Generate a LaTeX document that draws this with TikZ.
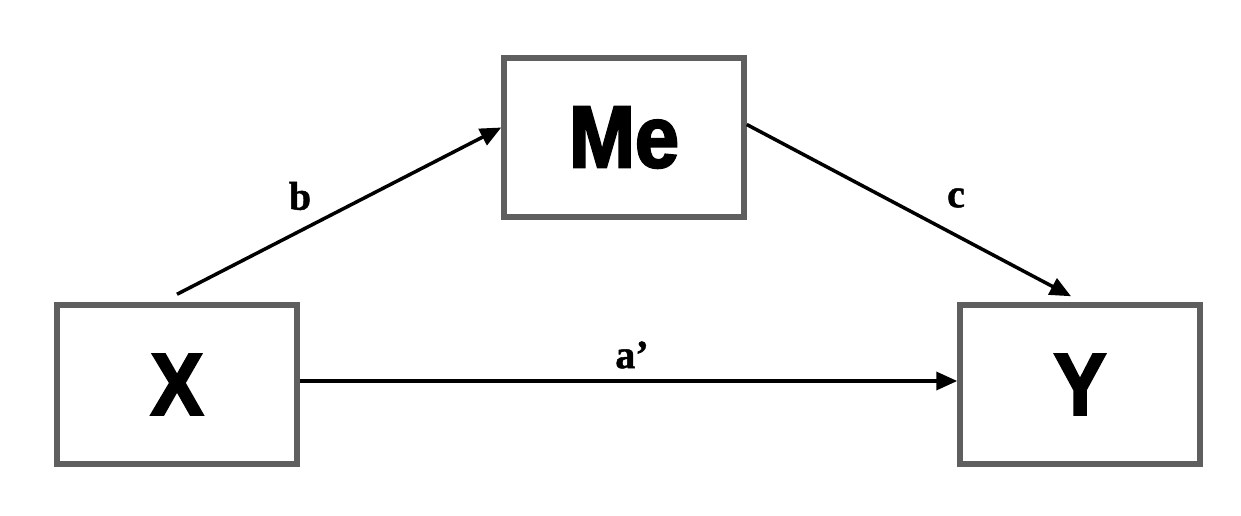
\documentclass[tikz,border=0pt]{standalone}
\usepackage{fontspec}
\usetikzlibrary{arrows.meta}
\newfontfamily\boxfont[FakeStretch=0.9,FakeBold=2.5]{Liberation Sans Bold}
\newfontfamily\labfont[FakeBold=1.2]{Liberation Serif Bold}
\definecolor{boxgray}{HTML}{5F5F5F}
\tikzset{
  varbox/.style={draw=boxgray, line width=5.5pt, fill=white, minimum width=240pt, minimum height=159pt, inner sep=0pt, font=\boxfont\fontsize{88}{88}\selectfont},
  arr/.style={line width=3.5pt, -{Triangle[length=21pt,width=18pt]}},
  lab/.style={font=\labfont\fontsize{40}{40}\selectfont, inner sep=0pt}
}
\begin{document}
\begin{tikzpicture}[x=1pt,y=-1pt]
\useasboundingbox (0,0) rectangle (1241,516);
\fill[white] (0,0) rectangle (1241,516);
\node[varbox] (X) at (177,384.5) {X};
\node[varbox] (Me) at (624,137.5) {Me};
\node[varbox] (Y) at (1080,384.5) {Y};
\draw[arr] ([yshift=8pt]X.north) -- ([yshift=10pt]Me.west);
\draw[arr] ([yshift=13pt]Me.east) -- ([xshift=-9pt,yshift=6pt]Y.north);
\draw[arr] ([yshift=3.5pt]X.east) -- ([yshift=3.5pt]Y.west);
\node[lab] (lb) at (300,196) {b};
\node[lab] (lc) at (956,198) {c};
\node[lab] (la) at (632,355) {a’};
\end{tikzpicture}
\end{document}
